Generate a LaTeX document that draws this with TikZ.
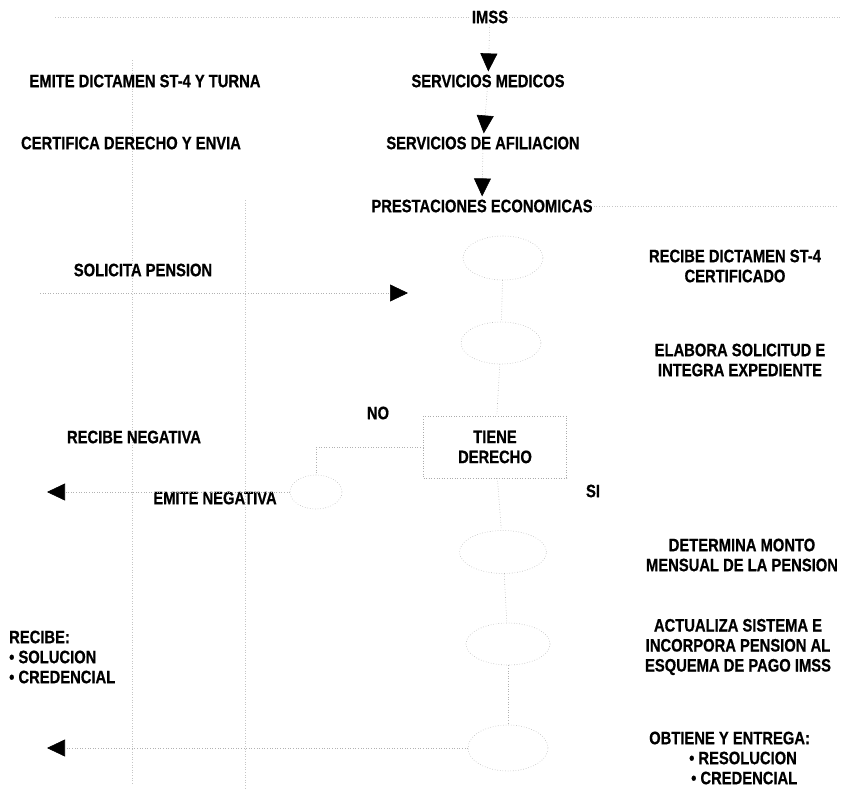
\documentclass[tikz,border=0pt]{standalone}
\usepackage{fontspec}
\setmainfont{Liberation Sans}[FakeStretch=0.82, BoldFeatures={FakeBold=0.6}]
\usepackage{tikz}
\usetikzlibrary{
    arrows.meta,
    shapes.geometric
}
\newcommand{\letra}{\bfseries\fontsize{18}{20}\selectfont}
\tikzstyle{texto} = [
    align=center,
    inner sep=1pt,
    font=\letra
]
\tikzstyle{etapa} = [
    ellipse,
    draw=gray!55,
    dotted,
    line width=0.6pt,
    minimum width=80pt,
    minimum height=44pt,
    inner sep=0pt
]
\tikzstyle{decision} = [
    rectangle,
    draw=gray!65,
    dotted,
    line width=0.6pt,
    minimum width=143pt,
    minimum height=62pt,
    align=center,
    font=\letra
]
\tikzstyle{flow} = [
    -{Triangle[width=17pt,length=18pt,black]},
    shorten >=2pt,
    dotted,
    line width=0.6pt,
    draw=gray!60
]
\tikzstyle{liga} = [
    dotted,
    line width=0.6pt,
    draw=gray!60
]
\tikzstyle{guia} = [
    dotted,
    line width=0.6pt,
    draw=gray!45
]

\begin{document}
\begin{tikzpicture}[x=1pt, y=-1pt]
    \useasboundingbox (0,0) rectangle (844,790);

    % Guide lines
    \coordinate (gtopl) at (55,17);
    \coordinate (gtopr) at (840,17);
    \coordinate (gprer) at (838,206);
    \coordinate (gv1a) at (132,60);
    \coordinate (gv1b) at (132,785);
    \coordinate (gv2a) at (245,200);
    \coordinate (gv2b) at (245,788);
    \draw[guia] (gv1a) -- (gv1b);
    \draw[guia] (gv2a) -- (gv2b);

    % IMSS column
    \node[texto] (imss) at (490,17) {IMSS};
    \node[texto] (medicos) at (488,81) {SERVICIOS MEDICOS};
    \node[texto] (afiliacion) at (483,143) {SERVICIOS DE AFILIACION};
    \node[texto] (prestaciones) at (482,206) {PRESTACIONES ECONOMICAS};

    \draw[guia] (gtopl) -- (imss.west);
    \draw[guia] (imss.east) -- (gtopr);
    \draw[guia] (prestaciones.east) -- (gprer);

    % Steps
    \node[etapa] (recibe) at (503,258) {};
    \node[etapa, minimum height=42pt] (elabora) at (501,343) {};
    \node[decision] (derecho) at (495,447) {TIENE\\DERECHO};
    \node[etapa, minimum width=52pt, minimum height=34pt] (emite) at (316,492) {};
    \node[etapa, minimum width=87pt, minimum height=43pt] (determina) at (503,552) {};
    \node[etapa, minimum width=84pt, minimum height=42pt] (actualiza) at (508,644) {};
    \node[etapa, minimum height=46pt] (obtiene) at (508,748) {};

    % Left labels
    \node[texto] (dictamen) at (145,81) {EMITE DICTAMEN ST-4 Y TURNA};
    \node[texto] (certifica) at (131,143) {CERTIFICA DERECHO Y ENVIA};
    \node[texto] (solicita) at (143,270) {SOLICITA PENSION};
    \node[texto] (recneg) at (134,437) {RECIBE NEGATIVA};
    \node[texto] (emineg) at (215,498) {EMITE NEGATIVA};
    \node[texto, align=left, anchor=west] (solucion) at (8,657)
        {RECIBE:\\\textbullet\ SOLUCION\\\textbullet\ CREDENCIAL};
    \node[texto] (no) at (378,413) {NO};
    \node[texto] (si) at (593,491) {SI};

    % Right labels
    \node[texto] (lrecibe) at (735,266) {RECIBE DICTAMEN ST-4\\CERTIFICADO};
    \node[texto] (lelabora) at (740,360) {ELABORA SOLICITUD E\\INTEGRA EXPEDIENTE};
    \node[texto] (ldetermina) at (742,555) {DETERMINA MONTO\\MENSUAL DE LA PENSION};
    \node[texto] (lactualiza) at (738,647)
        {ACTUALIZA SISTEMA E\\INCORPORA PENSION AL\\ESQUEMA DE PAGO IMSS};
    \node[texto, align=left, anchor=west] (lobtiene) at (648,758)
        {OBTIENE Y ENTREGA:\\\hspace*{40pt}\textbullet\ RESOLUCION\\\hspace*{42pt}\textbullet\ CREDENCIAL};

    % Arrows
    \coordinate (solini) at (40,293);
    \coordinate (solfin) at (408,293);
    \coordinate (negfin) at (47,492);
    \coordinate (entfin) at (47,748);
    \draw[flow] (imss) -- (medicos);
    \draw[flow] (medicos) -- (afiliacion);
    \draw[flow] (afiliacion) -- (prestaciones);
    \draw[flow, shorten >=0pt] (solini) -- (solfin);
    \draw[liga] (recibe) -- (elabora);
    \draw[liga] (elabora) -- (derecho);
    \draw[liga] (derecho.west) -| (emite.north);
    \draw[flow, shorten >=0pt] (emite.west) -- (negfin);
    \draw[liga] (derecho) -- (determina);
    \draw[liga] (determina) -- (actualiza);
    \draw[liga] (actualiza) -- (obtiene);
    \draw[flow, shorten >=0pt] (obtiene.west) -- (entfin);
\end{tikzpicture}
\end{document}
